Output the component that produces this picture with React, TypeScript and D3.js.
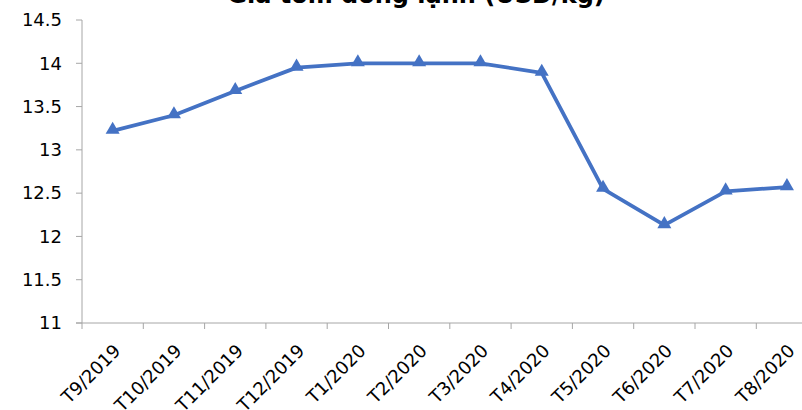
import React from "react";
import * as d3 from "d3";

const categories = ["T9/2019","T10/2019","T11/2019","T12/2019","T1/2020","T2/2020","T3/2020","T4/2020","T5/2020","T6/2020","T7/2020","T8/2020"];
const prices = [13.22, 13.4, 13.68, 13.95, 14.0, 14.0, 14.0, 13.89, 12.55, 12.13, 12.52, 12.57];
const yTicks = [11, 11.5, 12, 12.5, 13, 13.5, 14, 14.5];
const title = "Giá tôm đông lạnh (USD/kg)";

const W = 802, H = 410;
const x0 = 82, bandW = 61.3;
const x = d3.scaleBand<string>().domain(categories).range([x0, x0 + bandW * categories.length]);
const y = d3.scaleLinear().domain([11, 14.5]).range([323, 20]);
const font = "'DejaVu Sans', Verdana, sans-serif";
const axisColor = "#A6A6A6";
const lineColor = "#4472C4";

export default function App() {
  const line = d3.line<number>()
    .x((_, i) => (x(categories[i]) as number) + x.bandwidth() / 2)
    .y(d => y(d));
  const tri = d3.symbol().type(d3.symbolTriangle).size(85)();
  return (
    <svg width={W} height={H} style={{ position: "absolute", left: 0, top: 0, background: "#fff" }} fontFamily={font}>
      <text x={416} y={3} textAnchor="middle" fontWeight="bold" fontSize={24} fill="#000">{title}</text>
      {/* y axis */}
      <line x1={x0} x2={x0} y1={y(14.5)} y2={y(11)} stroke={axisColor} strokeWidth={1} />
      {yTicks.map(t => (
        <g key={t}>
          <line x1={x0 - 6} x2={x0} y1={y(t)} y2={y(t)} stroke={axisColor} />
          <text x={62} y={y(t)} dy="0.35em" textAnchor="end" fontSize={18} fill="#000">{t}</text>
        </g>
      ))}
      {/* x axis */}
      <line x1={x0 - 6} x2={W} y1={y(11)} y2={y(11)} stroke={axisColor} />
      {categories.map((c) => (
        <line key={"t" + c} x1={(x(c) as number)} x2={(x(c) as number)} y1={y(11)} y2={y(11) + 6} stroke={axisColor} />
      ))}
      {categories.map(c => {
        const cx = (x(c) as number) + x.bandwidth() / 2 + 9;
        const cy = 352;
        return (
          <text key={"l" + c} x={cx} y={cy} textAnchor="end" fontSize={18} fill="#000" transform={`rotate(-45 ${cx} ${cy})`}>{c}</text>
        );
      })}
      <path d={line(prices) as string} fill="none" stroke={lineColor} strokeWidth={3.8} strokeLinejoin="round" />
      {prices.map((p, i) => (
        <path key={"m" + i} d={tri as string} fill={lineColor}
          transform={`translate(${(x(categories[i]) as number) + x.bandwidth() / 2},${y(p) - 1})`} />
      ))}
    </svg>
  );
}
